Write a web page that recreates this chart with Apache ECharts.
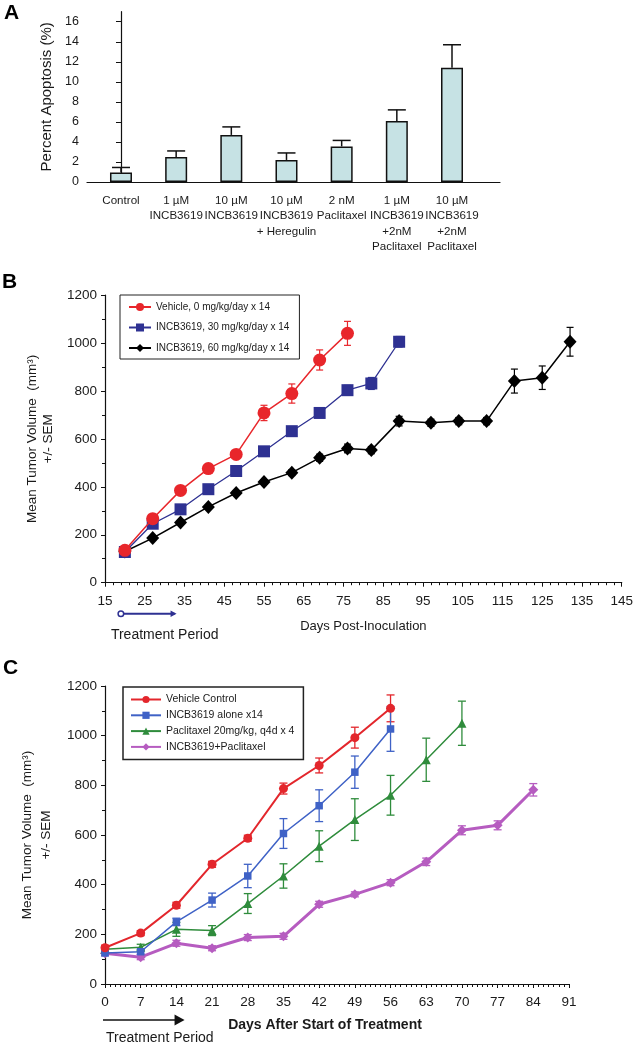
<!DOCTYPE html>
<html>
<head>
<meta charset="utf-8">
<script src="https://cdn.jsdelivr.net/npm/echarts@6/dist/echarts.min.js"></script>
<style>
html,body{margin:0;padding:0;background:#fff;}
#c{width:636px;height:1050px;}
</style>
</head>
<body>
<div id="c"></div>
<script>
// ---------- Panel A data ----------
const catsA = ['Control', '1 \u00b5M\nINCB3619', '10 \u00b5M\nINCB3619', '10 \u00b5M\nINCB3619\n+ Heregulin', '2 nM\nPaclitaxel', '1 \u00b5M\nINCB3619\n+2nM\nPaclitaxel', '10 \u00b5M\nINCB3619\n+2nM\nPaclitaxel'];
const valsA = [0.95, 2.5, 4.7, 2.2, 3.55, 6.1, 11.4];
const errA = [0.5, 0.6, 0.8, 0.7, 0.6, 1.1, 2.3];
const ticksA = [0, 2, 4, 6, 8, 10, 12, 14, 16];

// ---------- Panel B data ----------
const namesB = ['Vehicle, 0 mg/kg/day x 14', 'INCB3619, 30 mg/kg/day x 14', 'INCB3619, 60 mg/kg/day x 14'];
const daysVehB = [20, 27, 34, 41, 48, 55, 62, 69, 76];
const vehB = [135, 267, 385, 476, 535, 708, 789, 929, 1040];
const vehErrB = [6, 10, 12, 12, 12, 32, 40, 42, 50];
const days30B = [20, 27, 34, 41, 48, 55, 62, 69, 76, 82, 89];
const inc30B = [128, 246, 306, 390, 466, 548, 632, 708, 803, 831, 1005];
const inc30ErrB = [5, 8, 8, 10, 10, 12, 15, 15, 20, 25, 22];
const days60B = [20, 27, 34, 41, 48, 55, 62, 69, 76, 82, 89, 97, 104, 111, 118, 125, 132];
const inc60B = [130, 186, 251, 316, 374, 420, 459, 521, 560, 553, 674, 667, 674, 674, 841, 855, 1005];
const inc60ErrB = [5, 6, 8, 8, 10, 10, 12, 15, 18, 15, 20, 15, 15, 15, 50, 49, 60];
const treatB = [19, 33];

// ---------- Panel C data ----------
const namesC = ['Vehicle Control', 'INCB3619 alone x14', 'Paclitaxel 20mg/kg, q4d x 4', 'INCB3619+Paclitaxel'];
const daysC = [0, 7, 14, 21, 28, 35, 42, 49, 56, 63, 70, 77, 84];
const vehC = [146, 205, 317, 482, 587, 787, 880, 992, 1110];
const vehErrC = [10, 10, 12, 12, 12, 22, 30, 42, 54];
const incC = [125, 130, 250, 338, 435, 606, 718, 853, 1027];
const incErrC = [10, 10, 15, 28, 47, 60, 64, 65, 90];
const pacC = [140, 148, 220, 215, 324, 435, 555, 662, 760, 903, 1050];
const pacErrC = [10, 12, 28, 20, 40, 49, 62, 84, 80, 87, 89];
const comboC = [124, 108, 164, 144, 187, 192, 321, 361, 408, 492, 619, 639, 782];
const comboErrC = [10, 10, 12, 10, 12, 12, 12, 10, 12, 15, 18, 18, 25];
const treatC = [0, 15.6];

const FONT = '"Liberation Sans", Arial, Helvetica, sans-serif';
const TXT = '#1a1a1a';

const chart = echarts.init(document.getElementById('c'), null, {renderer: 'canvas'});

function pairs(xs, ys, es) {
  return ys.map((y, i) => es ? [xs[i], y, es[i]] : [xs[i], y]);
}

function errSeries(name, xi, yi, data, color, capHalf, lw, upOnly, z) {
  return {
    type: 'custom', name: name, xAxisIndex: xi, yAxisIndex: yi, z: z, clip: false,
    silent: true, data: data, encode: {x: 0, y: 1},
    renderItem: function (params, api) {
      const x = api.value(0), y = api.value(1), e = api.value(2);
      const top = api.coord([x, y + e]);
      const bot = api.coord([x, upOnly ? y : y - e]);
      const st = {stroke: color, lineWidth: lw};
      const ch = [
        {type: 'line', shape: {x1: top[0], y1: top[1], x2: bot[0], y2: bot[1]}, style: st},
        {type: 'line', shape: {x1: top[0] - capHalf, y1: top[1], x2: top[0] + capHalf, y2: top[1]}, style: st}
      ];
      if (!upOnly) ch.push({type: 'line', shape: {x1: bot[0] - capHalf, y1: bot[1], x2: bot[0] + capHalf, y2: bot[1]}, style: st});
      return {type: 'group', children: ch};
    }
  };
}

function lineSeries(name, xi, yi, data, color, symbol, size, lw, z) {
  return {
    type: 'line', name: name, xAxisIndex: xi, yAxisIndex: yi, data: data,
    symbol: symbol, symbolSize: size, showAllSymbol: true, z: z,
    lineStyle: {color: color, width: lw}, itemStyle: {color: color},
    emphasis: {disabled: true}
  };
}

const plain = v => String(v);
const axisLineStyle = {show: true, lineStyle: {color: '#111', width: 1.2}};
const labelStyle = {color: TXT, fontFamily: FONT, fontSize: 13.5, formatter: plain};

const colB = ['#e8262b', '#2e3192', '#000000'];
const colC = ['#e3262c', '#3f62c6', '#2f8c3c', '#b65cc0'];

const option = {
  animation: false,
  backgroundColor: '#fff',
  title: [
    {text: 'A', left: 4, top: 3, padding: 0, textStyle: {fontFamily: FONT, fontSize: 21, fontWeight: 'bold', color: '#000'}},
    {text: 'B', left: 2, top: 272, padding: 0, textStyle: {fontFamily: FONT, fontSize: 21, fontWeight: 'bold', color: '#000'}},
    {text: 'C', left: 3, top: 658, padding: 0, textStyle: {fontFamily: FONT, fontSize: 21, fontWeight: 'bold', color: '#000'}}
  ],
  legend: [
    {
      data: namesB, orient: 'vertical', left: 120, top: 295, padding: [7, 10, 6, 8],
      itemWidth: 22, itemHeight: 10, itemGap: 10.5, selectedMode: false,
      borderColor: '#222', borderWidth: 1,
      textStyle: {fontFamily: FONT, fontSize: 10, color: TXT}
    },
    {
      data: namesC, orient: 'vertical', left: 123, top: 687, padding: [7, 9, 7, 7],
      itemWidth: 30, itemHeight: 9, itemGap: 4.8, selectedMode: false,
      borderColor: '#222', borderWidth: 1.5,
      textStyle: {fontFamily: FONT, fontSize: 10.5, color: TXT}
    }
  ],
  grid: [
    {left: 87, top: 11.7, width: 413, height: 170.3},
    {left: 105, top: 295, width: 520, height: 287.7},
    {left: 105, top: 686, width: 464, height: 298}
  ],
  xAxis: [
    {
      type: 'value', gridIndex: 0, min: -0.616, max: 6.87,
      splitLine: {show: false}, axisLine: axisLineStyle, axisTick: {show: false},
      axisLabel: {
        customValues: [0, 1, 2, 3, 4, 5, 6], margin: 11, lineHeight: 15.5,
        color: TXT, fontFamily: FONT, fontSize: 11.6, verticalAlign: 'top',
        formatter: function (v) { return catsA[Math.round(v)] || ''; }
      }
    },
    {
      type: 'value', gridIndex: 1, min: 15, max: 145, interval: 10,
      splitLine: {show: false}, axisLine: axisLineStyle,
      axisTick: {show: true, length: 4, lineStyle: {color: '#111'}},
      minorTick: {show: true, splitNumber: 5, length: 2.5, lineStyle: {color: '#111'}},
      axisLabel: Object.assign({margin: 12}, labelStyle),
      name: 'Days Post-Inoculation', nameLocation: 'middle', nameGap: 37,
      nameTextStyle: {fontFamily: FONT, fontSize: 13, color: TXT}
    },
    {
      type: 'value', gridIndex: 2, min: 0, max: 91, interval: 7,
      splitLine: {show: false}, axisLine: axisLineStyle,
      axisTick: {show: true, length: 4, lineStyle: {color: '#111'}},
      minorTick: {show: true, splitNumber: 7, length: 3, lineStyle: {color: '#111'}},
      axisLabel: Object.assign({margin: 11}, labelStyle),
      name: 'Days After Start of Treatment', nameLocation: 'middle', nameGap: 34,
      nameTextStyle: {fontFamily: FONT, fontSize: 14, fontWeight: 'bold', color: TXT, padding: [0, 24, 0, 0]}
    }
  ],
  yAxis: [
    {
      type: 'value', gridIndex: 0, min: 0, max: 17,
      splitLine: {show: false}, axisLine: axisLineStyle,
      axisTick: {show: true, length: 5, customValues: ticksA, lineStyle: {color: '#111'}},
      axisLabel: {customValues: ticksA, margin: 8, color: TXT, fontFamily: FONT, fontSize: 12.5, formatter: plain},
      name: 'Percent Apoptosis (%)', nameLocation: 'middle', nameGap: 31,
      nameTextStyle: {fontFamily: FONT, fontSize: 15, color: TXT}
    },
    {
      type: 'value', gridIndex: 1, min: 0, max: 1200, interval: 200,
      splitLine: {show: false}, axisLine: axisLineStyle,
      axisTick: {show: true, length: 4, lineStyle: {color: '#111'}},
      minorTick: {show: true, splitNumber: 2, length: 3, lineStyle: {color: '#111'}},
      axisLabel: Object.assign({margin: 8}, labelStyle),
      name: 'Mean Tumor Volume  (mm\u00b3)\n+/- SEM', nameLocation: 'middle', nameGap: 45,
      nameTextStyle: {fontFamily: FONT, fontSize: 13.5, lineHeight: 16, color: TXT}
    },
    {
      type: 'value', gridIndex: 2, min: 0, max: 1200, interval: 200,
      splitLine: {show: false}, axisLine: axisLineStyle,
      axisTick: {show: true, length: 4, lineStyle: {color: '#111'}},
      minorTick: {show: true, splitNumber: 2, length: 3, lineStyle: {color: '#111'}},
      axisLabel: Object.assign({margin: 8}, labelStyle),
      name: 'Mean Tumor Volume  (mm\u00b3)\n+/- SEM', nameLocation: 'middle', nameGap: 45,
      nameTextStyle: {fontFamily: FONT, fontSize: 13.5, lineHeight: 19, color: TXT}
    }
  ],
  series: [
    {
      type: 'bar', name: 'Apoptosis', xAxisIndex: 0, yAxisIndex: 0,
      data: valsA.map((v, i) => [i, v]), barWidth: 22, z: 2,
      itemStyle: {color: '#c6e2e4', borderColor: '#111', borderWidth: 1.5},
      emphasis: {disabled: true}
    },
    errSeries('errA', 0, 0, valsA.map((v, i) => [i, v, errA[i]]), '#111', 9, 1.5, true, 3),

    errSeries('errB0', 1, 1, pairs(daysVehB, vehB, vehErrB), colB[0], 3.5, 1.2, false, 2),
    errSeries('errB1', 1, 1, pairs(days30B, inc30B, inc30ErrB), colB[1], 3.5, 1.2, false, 2),
    errSeries('errB2', 1, 1, pairs(days60B, inc60B, inc60ErrB), colB[2], 3.5, 1.2, false, 2),
    lineSeries(namesB[0], 1, 1, pairs(daysVehB, vehB), colB[0], 'circle', 13, 1.5, 5),
    lineSeries(namesB[1], 1, 1, pairs(days30B, inc30B), colB[1], 'rect', 12, 1.3, 4),
    lineSeries(namesB[2], 1, 1, pairs(days60B, inc60B), colB[2], 'diamond', [13, 14], 1.5, 3),

    errSeries('errC0', 2, 2, pairs(daysC, vehC, vehErrC), colC[0], 4, 1.3, false, 2),
    errSeries('errC1', 2, 2, pairs(daysC, incC, incErrC), colC[1], 4, 1.3, false, 2),
    errSeries('errC2', 2, 2, pairs(daysC, pacC, pacErrC), colC[2], 4, 1.3, false, 2),
    errSeries('errC3', 2, 2, pairs(daysC, comboC, comboErrC), colC[3], 4, 1.3, false, 2),
    lineSeries(namesC[0], 2, 2, pairs(daysC, vehC), colC[0], 'circle', 9, 2, 6),
    lineSeries(namesC[1], 2, 2, pairs(daysC, incC), colC[1], 'rect', 7.5, 1.5, 5),
    lineSeries(namesC[2], 2, 2, pairs(daysC, pacC), colC[2], 'triangle', 9, 1.5, 4),
    lineSeries(namesC[3], 2, 2, pairs(daysC, comboC), colC[3], 'diamond', [10, 10], 3, 3)
  ]
};

chart.setOption(option);

// Treatment period annotations, placed via the axes' own scales
const b0 = chart.convertToPixel({gridIndex: 1}, [treatB[0], 0]);
const b1 = chart.convertToPixel({gridIndex: 1}, [treatB[1], 0]);
const c0 = chart.convertToPixel({gridIndex: 2}, [treatC[0], 0]);
const c1 = chart.convertToPixel({gridIndex: 2}, [treatC[1], 0]);
const yb = b0[1] + 31, yc = c0[1] + 36;
const navy = '#2e3192';
chart.setOption({
  graphic: [
    {type: 'line', shape: {x1: b0[0], y1: yb, x2: b1[0] - 2, y2: yb}, style: {stroke: navy, lineWidth: 2}},
    {type: 'circle', shape: {cx: b0[0], cy: yb, r: 2.8}, style: {fill: '#fff', stroke: navy, lineWidth: 1.5}},
    {type: 'polygon', shape: {points: [[b1[0] - 6, yb - 3.2], [b1[0], yb], [b1[0] - 6, yb + 3.2]]}, style: {fill: navy}},
    {type: 'text', x: b0[0] - 10, y: b0[1] + 52, style: {text: 'Treatment Period', font: '14px ' + FONT, fill: TXT, textVerticalAlign: 'middle', verticalAlign: 'middle'}},

    {type: 'line', shape: {x1: c0[0] - 2, y1: yc, x2: c1[0] - 8, y2: yc}, style: {stroke: '#111', lineWidth: 1.5}},
    {type: 'polygon', shape: {points: [[c1[0] - 10, yc - 5.5], [c1[0], yc], [c1[0] - 10, yc + 5.5]]}, style: {fill: '#111'}},
    {type: 'text', x: c0[0] + 1, y: c0[1] + 54, style: {text: 'Treatment Period', font: '14px ' + FONT, fill: TXT, textVerticalAlign: 'middle', verticalAlign: 'middle'}}
  ]
});
</script>
</body>
</html>
